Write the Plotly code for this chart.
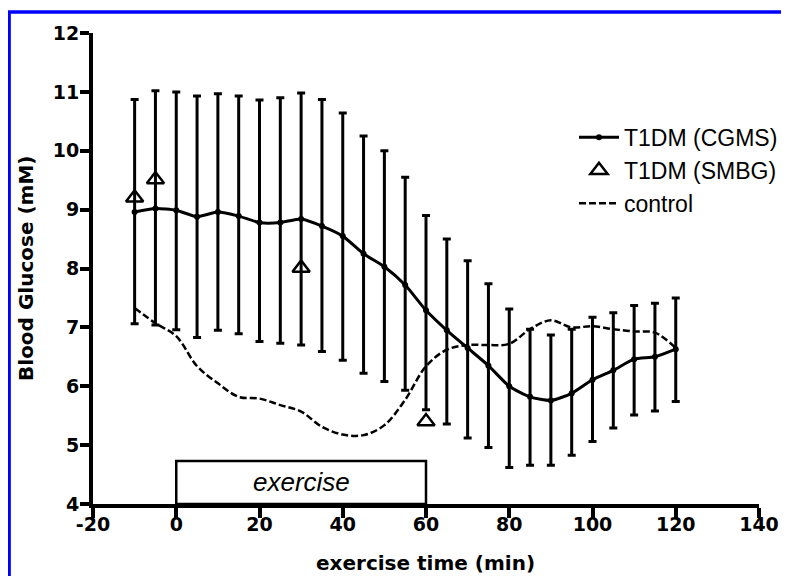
import plotly.graph_objects as go

# ---- data ----
time_cgms = [-10, -5, 0, 5, 10, 15, 20, 25, 30, 35, 40, 45, 50, 55, 60, 65,
             70, 75, 80, 85, 90, 95, 100, 105, 110, 115, 120]
cgms_mean = [8.96, 9.02, 8.99, 8.88, 8.96, 8.89, 8.78, 8.78, 8.84, 8.72, 8.55,
             8.25, 8.03, 7.72, 7.29, 6.95, 6.65, 6.35, 6.00, 5.82, 5.76, 5.88,
             6.11, 6.27, 6.46, 6.50, 6.63]
cgms_upper = [10.87, 11.02, 11.00, 10.93, 10.97, 10.93, 10.86, 10.90, 10.98,
              10.87, 10.64, 10.25, 10.00, 9.55, 8.90, 8.50, 8.13, 7.74, 7.31,
              6.97, 6.87, 6.97, 7.17, 7.25, 7.37, 7.41, 7.50]
cgms_lower = [7.06, 7.04, 6.96, 6.83, 6.95, 6.89, 6.76, 6.73, 6.70, 6.59, 6.44,
              6.22, 6.08, 5.93, 5.60, 5.36, 5.12, 4.96, 4.62, 4.66, 4.66, 4.83,
              5.06, 5.29, 5.51, 5.58, 5.74]

time_smbg = [-10, -5, 30, 60]
smbg_vals = [9.20, 9.51, 8.01, 5.40]

time_ctrl = [-10, -5, 0, 5, 10, 15, 20, 25, 30, 35, 40, 45, 50, 55, 60, 65,
             70, 75, 80, 85, 90, 95, 100, 105, 110, 115, 120]
ctrl_vals = [7.33, 7.07, 6.85, 6.34, 6.05, 5.82, 5.79, 5.68, 5.57, 5.31, 5.18,
             5.17, 5.34, 5.77, 6.34, 6.62, 6.70, 6.70, 6.72, 6.97, 7.12, 7.00,
             7.02, 6.97, 6.93, 6.91, 6.65]

exercise_start, exercise_end = 0, 60
x_ticks = [-20, 0, 20, 40, 60, 80, 100, 120, 140]
y_ticks = [4, 5, 6, 7, 8, 9, 10, 11, 12]

err_plus = [u - m for u, m in zip(cgms_upper, cgms_mean)]
err_minus = [m - l for m, l in zip(cgms_mean, cgms_lower)]

AX_FONT = dict(family="DejaVu Sans", size=19, color="black", weight="bold")
TITLE_FONT = dict(family="DejaVu Sans", size=20, color="black", weight="bold")
TXT_FONT = dict(family="Liberation Sans, Arial", size=23, color="black")

fig = go.Figure()

fig.add_trace(go.Scatter(
    x=time_cgms, y=cgms_mean, name="T1DM (CGMS)", mode="lines+markers",
    line=dict(color="black", width=3, shape="spline", smoothing=0.6),
    marker=dict(symbol="circle", size=6, color="black"),
    error_y=dict(type="data", symmetric=False, array=err_plus,
                 arrayminus=err_minus, color="black", thickness=3, width=4),
))
fig.add_trace(go.Scatter(
    x=time_smbg, y=smbg_vals, name="T1DM (SMBG)", mode="markers",
    marker=dict(symbol="triangle-up-open", size=15, color="black",
                line=dict(width=2.5, color="black")),
))
fig.add_trace(go.Scatter(
    x=time_ctrl, y=ctrl_vals, name="control", mode="lines",
    line=dict(color="black", width=2.5, dash="7px,3px", shape="spline",
              smoothing=1.0),
))

# exercise box
fig.add_shape(type="rect", xref="x", yref="y",
              x0=exercise_start, x1=exercise_end, y0=4, y1=4.73,
              line=dict(color="black", width=2.5), fillcolor="rgba(0,0,0,0)")
fig.add_annotation(x=(exercise_start + exercise_end) / 2, y=4.37, xref="x",
                   yref="y", text="<i>exercise</i>", showarrow=False,
                   font=dict(family="Liberation Sans, Arial", size=26,
                             color="black"))

# blue frame (left and top edges)
fig.add_shape(type="rect", xref="paper", yref="paper",
              x0=-0.126, x1=1.3, y0=-0.4, y1=1.0446,
              line=dict(color="#0000ff", width=3.5), fillcolor="rgba(0,0,0,0)")

# axis titles
fig.add_annotation(x=0.4985, y=-0.1253, xref="paper", yref="paper",
                   text="exercise time (min)", showarrow=False,
                   font=TITLE_FONT, xanchor="center", yanchor="middle")
fig.add_annotation(x=-0.1006, y=0.499, xref="paper", yref="paper",
                   text="Blood Glucose (mM)", showarrow=False, textangle=-90,
                   font=TITLE_FONT, xanchor="center", yanchor="middle")

fig.update_xaxes(range=[-20, 140], tickvals=x_ticks,
                 ticktext=[str(v) for v in x_ticks],
                 showline=True, linecolor="black", linewidth=4,
                 ticks="outside", ticklen=10, tickwidth=4, tickcolor="black",
                 ticklabelstandoff=-10,
                 showgrid=False, zeroline=False, tickfont=AX_FONT)
fig.update_yaxes(range=[4, 12], tickvals=y_ticks,
                 ticktext=[str(v) for v in y_ticks],
                 showline=True, linecolor="black", linewidth=4,
                 ticks="outside", ticklen=9, tickwidth=4, tickcolor="black",
                 ticklabelstandoff=-3,
                 showgrid=False, zeroline=False, tickfont=AX_FONT)

# page body has an 8px margin, so the figure is 8px smaller and sits at (8, 8)
fig.update_layout(
    width=781, height=568,
    margin=dict(l=85, r=30, t=25, b=72, autoexpand=False),
    paper_bgcolor="white", plot_bgcolor="white",
    showlegend=True,
    legend=dict(x=0.7247, y=0.81, xref="container", yref="container",
                xanchor="left", yanchor="top",
                font=TXT_FONT, bgcolor="rgba(0,0,0,0)", borderwidth=0,
                tracegroupgap=0, itemwidth=40),
)

fig.write_html("out.html")
